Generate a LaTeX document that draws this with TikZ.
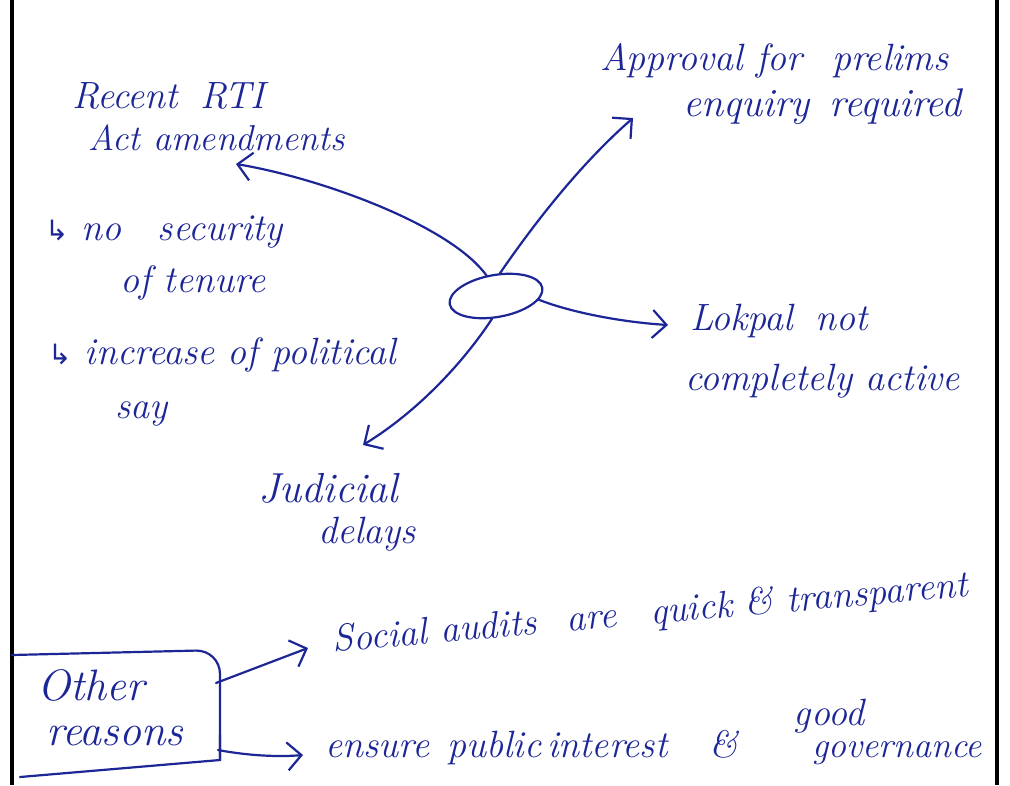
\documentclass[tikz,border=0pt]{standalone}
\usepackage{fontspec}
\newfontfamily\symfont{DejaVu Sans}
\usetikzlibrary{arrows.meta,shapes.geometric}
\definecolor{ink}{RGB}{28,38,150}
\newcommand{\hook}{{\symfont\fontsize{28}{30}\selectfont ↳}}
\begin{document}
\begin{tikzpicture}[x=1pt,y=-1pt,
  hand/.style={inner sep=0pt,anchor=base west,text=ink,font=\fontsize{#1}{#1}\selectfont\itshape},
  hand/.default=38,
  link/.style={draw=ink,line width=2.2pt,line cap=round,-{Straight Barb[length=14pt,width=28pt,line width=2.2pt]}},
  frame/.style={draw=black,line width=4pt}]
\useasboundingbox (0,0) rectangle (1010,785);
\fill[white] (0,0) rectangle (1010,785);
% page frame
\draw[frame] (12,0) -- (12,785);
\draw[frame] (997,0) -- (997,785);
% centre
\node[ellipse,draw=ink,line width=2.2pt,minimum width=94pt,minimum height=42pt,rotate=10] (c) at (496,296) {};
% labels
\node[hand] (rti1) at (72,108) {Recent\hspace{22pt}RTI};
\node[hand=36] (rti2) at (88,150) {Act amendments};
\node[hand] (sec1) at (45,240) {\hook\ no\hspace{36pt}security};
\node[hand] (sec2) at (120,292) {of tenure};
\node[hand] (pol1) at (48,364) {\hook\ increase of political};
\node[hand] (pol2) at (115,418) {say};
\node[hand=42] (jud1) at (258,502) {Judicial};
\node[hand] (jud2) at (318,543) {delays};
\node[hand] (app1) at (600,70) {Approval for\hspace{30pt}prelims};
\node[hand=40] (app2) at (683,116) {enquiry\hspace{20pt}required};
\node[hand] (lok1) at (690,330) {Lokpal\hspace{22pt}not};
\node[hand] (lok2) at (685,390) {completely active};
\node[hand=44] (oth1) at (37,700) {Other};
\node[hand=44] (oth2) at (46,745) {reasons};
\node[hand,rotate=5] (soc) at (333,652) {Social audits\hspace{30pt}are\hspace{34pt}quick\hspace{12pt}\&\hspace{14pt}transparent};
\node[hand] (ens) at (325,757) {ensure\hspace{18pt}public\hspace{6pt}interest\hspace{42pt}\&\hspace{56pt}\raisebox{32pt}{good}\kern-52pt{\fontsize{36}{36}\selectfont governance}};
% box around "Other reasons"
\draw[draw=ink,line width=2.2pt,line cap=round,rounded corners=24pt]
  (12,655) -- (220,650) -- (220,760);
\draw[draw=ink,line width=2.2pt,line cap=round] (220,735) -- (220,760) -- (20,777);
% arrow end points
\coordinate (trti) at (236,164);
\coordinate (tapp) at (633,118);
\coordinate (tlok) at (668,325);
\coordinate (tjud) at (363,445);
\coordinate (bx1) at (216,683);
\coordinate (bx2) at (218,750);
\coordinate (tsoc) at (308,648);
\coordinate (tens) at (303,755);
% connectors
\draw[link] (c.105) .. controls (450,225) and (320,178) .. (trti);
\draw[link] (c.70) .. controls (540,215) and (585,160) .. (tapp);
\draw[link] (c.-15) .. controls (570,312) and (620,322) .. (tlok);
\draw[link] (c.-110) .. controls (465,360) and (420,410) .. (tjud);
\draw[link] (bx1) -- (tsoc);
\draw[link] (bx2) .. controls (250,756) and (280,757) .. (tens);
\end{tikzpicture}
\end{document}
